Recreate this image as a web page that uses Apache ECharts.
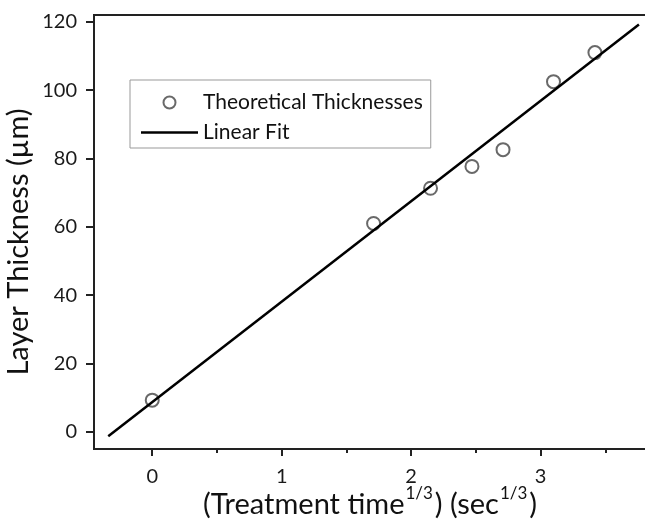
<!DOCTYPE html>
<html>
<head>
<meta charset="utf-8">
<script src="https://cdn.jsdelivr.net/npm/echarts@6/dist/echarts.min.js"></script>
<style>
html,body{margin:0;padding:0;background:#fff;overflow:hidden;}
#c{width:700px;height:530px;}
</style>
</head>
<body>
<div id="c"></div>
<script>
// ---- data ----
const pointX = [0, 1.71, 2.15, 2.47, 2.71, 3.10, 3.42];
const pointY = [9.3, 61.0, 71.3, 77.7, 82.6, 102.5, 111.0];
const fitX = [-0.34, 3.76];
const fitY = [-1.3, 119.2];
const xTickLabels = [0, 1, 2, 3, 4];
const xMinorTicks = [0.5, 1.5, 2.5, 3.5];
const yTickLabels = [0, 20, 40, 60, 80, 100, 120];
const yMinorTicks = [10, 30, 50, 70, 90, 110];
const seriesNames = ['Theoretical Thicknesses', 'Linear Fit'];

const FONT = 'Lato';
const GRID = {left: 94, top: 15, right: 30, bottom: 81};
const gridW = 700 - GRID.left - GRID.right;
const gridH = 530 - GRID.top - GRID.bottom;
const axisColor = '#222';

const chart = echarts.init(document.getElementById('c'), null, {renderer: 'canvas'});
chart.setOption({
  animation: false,
  backgroundColor: '#fff',
  grid: Object.assign({show: true, containLabel: false, outerBoundsMode: 'none', borderColor: axisColor, borderWidth: 2, backgroundColor: 'transparent'}, GRID),
  legend: {
    orient: 'vertical',
    left: 130, top: 80,
    padding: [12, 8, 5, 11],
    itemGap: 9,
    itemWidth: 57, itemHeight: 12,
    borderColor: '#999', borderWidth: 1,
    data: [
      {name: seriesNames[0], icon: 'emptyCircle'},
      {name: seriesNames[1], icon: 'path://M0,0 L57,0 L57,2.5 L0,2.5 Z'}
    ],
    textStyle: {fontFamily: FONT, fontSize: 21, color: '#111'}
  },
  xAxis: [{
    type: 'value', min: -0.45, max: 4.0,
    position: 'bottom',
    axisLine: {show: true, onZero: false, lineStyle: {color: axisColor, width: 2}},
    axisTick: {show: true, inside: false, length: 7, customValues: xTickLabels, lineStyle: {color: axisColor, width: 2}},
    axisLabel: {show: true, margin: 18, customValues: xTickLabels, fontFamily: FONT, fontSize: 20, color: '#1a1a1a'},
    splitLine: {show: false},
    name: '{m|(Treatment time}{s|1/3}{m|) (sec}{s|1/3}{m|)}',
    nameLocation: 'middle', nameGap: 36,
    nameMoveOverlap: false,
    nameTextStyle: {
      padding: [0, 24, 0, 0],
      rich: {
        m: {fontFamily: FONT, fontSize: 29, color: '#111', lineHeight: 40},
        s: {fontFamily: FONT, fontSize: 17, color: '#111', verticalAlign: 'top', lineHeight: 40, padding: [0, 2, 0, 1]}
      }
    }
  }, {
    type: 'value', min: -0.45, max: 4.0,
    position: 'top', offset: -gridH,
    axisLine: {show: false},
    axisTick: {show: true, inside: true, length: 4, customValues: xMinorTicks, lineStyle: {color: axisColor, width: 2}},
    axisLabel: {show: false},
    splitLine: {show: false}
  }],
  yAxis: [{
    type: 'value', min: -5, max: 122,
    position: 'left',
    axisLine: {show: true, onZero: false, lineStyle: {color: axisColor, width: 2}},
    axisTick: {show: true, inside: false, length: 8, customValues: yTickLabels, lineStyle: {color: axisColor, width: 2}},
    axisLabel: {show: true, margin: 17, customValues: yTickLabels, fontFamily: FONT, fontSize: 20, color: '#1a1a1a'},
    splitLine: {show: false},
    name: 'Layer Thickness (µm)',
    nameLocation: 'middle', nameGap: 61,
    nameMoveOverlap: false,
    nameTextStyle: {fontFamily: FONT, fontSize: 29, color: '#111', padding: [0, 20, 0, 0]}
  }, {
    type: 'value', min: -5, max: 122,
    position: 'right', offset: -gridW,
    axisLine: {show: false},
    axisTick: {show: true, inside: true, length: 4, customValues: yMinorTicks, lineStyle: {color: axisColor, width: 2}},
    axisLabel: {show: false},
    splitLine: {show: false}
  }],
  series: [{
    name: seriesNames[0],
    type: 'scatter',
    xAxisIndex: 0, yAxisIndex: 0,
    symbol: 'emptyCircle',
    symbolSize: 13,
    itemStyle: {color: '#444', borderColor: '#444', borderWidth: 1.4},
    data: pointX.map((x, i) => [x, pointY[i]]),
    z: 3
  }, {
    name: seriesNames[1],
    type: 'line',
    xAxisIndex: 0, yAxisIndex: 0,
    symbol: 'none',
    showSymbol: false,
    lineStyle: {color: '#000', width: 2.5},
    itemStyle: {color: '#000'},
    data: fitX.map((x, i) => [x, fitY[i]]),
    z: 4
  }]
});
</script>
</body>
</html>
